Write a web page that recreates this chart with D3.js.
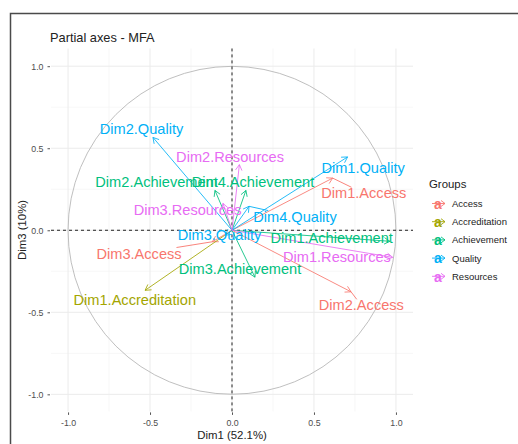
<!DOCTYPE html>
<html>
<head>
<meta charset="utf-8">
<script src="https://cdn.jsdelivr.net/npm/d3@7"></script>
<style>
  html, body { margin: 0; padding: 0; background: #ffffff; }
  svg { display: block; font-family: "Liberation Sans", Arial, sans-serif; }
</style>
</head>
<body>
<svg id="chart" width="518" height="444"></svg>
<script>
// Partial axes of the MFA: each group's own dimensions projected on Dim1 / Dim3
const groups = ["Access", "Accreditation", "Achievement", "Quality", "Resources"];
const groupColors = ["#F8766D", "#A3A500", "#00BF7D", "#00B0F6", "#E76BF3"];

const axisNames = [
  "Dim1.Access", "Dim2.Access", "Dim3.Access",
  "Dim1.Accreditation",
  "Dim1.Achievement", "Dim2.Achievement", "Dim3.Achievement", "Dim4.Achievement",
  "Dim1.Quality", "Dim2.Quality", "Dim3.Quality", "Dim4.Quality",
  "Dim1.Resources", "Dim2.Resources", "Dim3.Resources"
];
const axisGroup = [
  "Access", "Access", "Access",
  "Accreditation",
  "Achievement", "Achievement", "Achievement", "Achievement",
  "Quality", "Quality", "Quality", "Quality",
  "Resources", "Resources", "Resources"
];
// correlations with the global Dim1 and Dim3
const coordDim1 = [0.614, 0.726, -0.12, -0.53, 0.963, -0.104, 0.14, 0.085, 0.705, -0.482, -0.04, 0.104, 0.98, 0.045, -0.055];
const coordDim3 = [0.318, -0.375, -0.07, -0.366, -0.067, 0.243, -0.286, 0.243, 0.447, 0.566, -0.03, 0.146, -0.165, 0.40, 0.164];
// repelled label anchors (same units as the coordinates)
const labelDim1 = [0.804, 0.789, -0.567, -0.593, 0.608, -0.46, 0.049, 0.128, 0.80, -0.552, -0.076, 0.384, 0.64, -0.012, -0.271];
const labelDim3 = [0.227, -0.456, -0.14, -0.426, -0.047, 0.298, -0.237, 0.298, 0.384, 0.621, -0.03, 0.085, -0.163, 0.45, 0.128];

const xTicks = [-1.0, -0.5, 0.0, 0.5, 1.0];
const yTicks = [-1.0, -0.5, 0.0, 0.5, 1.0];
const minorTicks = [-0.75, -0.25, 0.25, 0.75];

const chartTitle = "Partial axes - MFA";
const xTitle = "Dim1 (52.1%)";
const yTitle = "Dim3 (10%)";
const legendTitle = "Groups";

const svg = d3.select("#chart");
const color = d3.scaleOrdinal().domain(groups).range(groupColors);

const x = d3.scaleLinear().domain([-1.104, 1.104]).range([51, 413]);
const y = d3.scaleLinear().domain([-1.104, 1.108]).range([411.4, 48.5]);

// plot frame
svg.append("rect")
  .attr("x", 10.5).attr("y", 13.5).attr("width", 530).attr("height", 450)
  .attr("fill", "#ffffff").attr("stroke", "#4a4a4a").attr("stroke-width", 1.5);

const panel = svg.append("g");
const [x0, x1] = x.range();
const [y0, y1] = y.range();

// grid
panel.selectAll(".vminor").data(minorTicks).join("line")
  .attr("x1", d => x(d)).attr("x2", d => x(d)).attr("y1", y0).attr("y2", y1)
  .attr("stroke", "#f2f2f2").attr("stroke-width", 0.6);
panel.selectAll(".hminor").data(minorTicks).join("line")
  .attr("y1", d => y(d)).attr("y2", d => y(d)).attr("x1", x0).attr("x2", x1)
  .attr("stroke", "#f2f2f2").attr("stroke-width", 0.6);
panel.selectAll(".vmajor").data(xTicks).join("line")
  .attr("x1", d => x(d)).attr("x2", d => x(d)).attr("y1", y0).attr("y2", y1)
  .attr("stroke", "#ebebeb").attr("stroke-width", 1);
panel.selectAll(".hmajor").data(yTicks).join("line")
  .attr("y1", d => y(d)).attr("y2", d => y(d)).attr("x1", x0).attr("x2", x1)
  .attr("stroke", "#ebebeb").attr("stroke-width", 1);

// unit circle
panel.append("circle")
  .attr("cx", x(0)).attr("cy", y(0))
  .attr("r", x(1) - x(0))
  .attr("fill", "none").attr("stroke", "#b8b8b8").attr("stroke-width", 0.9);

// reference lines
panel.append("line")
  .attr("x1", x(0)).attr("x2", x(0)).attr("y1", y0).attr("y2", y1)
  .attr("stroke", "#222").attr("stroke-width", 1).attr("stroke-dasharray", "3,3");
panel.append("line")
  .attr("x1", x0).attr("x2", x1).attr("y1", y(0)).attr("y2", y(0))
  .attr("stroke", "#222").attr("stroke-width", 1).attr("stroke-dasharray", "3,3");

// axes
const xAxis = svg.append("g").attr("transform", `translate(0,${y0 + 1})`)
  .call(d3.axisBottom(x).tickValues(xTicks).tickFormat(d3.format(".1f")).tickSize(2.5).tickPadding(5));
const yAxis = svg.append("g").attr("transform", `translate(${x0 - 1},0)`)
  .call(d3.axisLeft(y).tickValues(yTicks).tickFormat(d3.format(".1f")).tickSize(2.5).tickPadding(4));
[xAxis, yAxis].forEach(a => {
  a.select(".domain").remove();
  a.selectAll(".tick line").attr("stroke", "#555").attr("stroke-width", 1);
  a.selectAll(".tick text").attr("fill", "#4d4d4d").attr("font-size", "8.8px")
    .attr("font-family", "'Liberation Sans', Arial, sans-serif");
});
xAxis.selectAll(".tick text").text(d => d3.format(".1f")(d).replace("−", "-"));
yAxis.selectAll(".tick text").text(d => d3.format(".1f")(d).replace("−", "-"));

// arrows
const rows = axisNames.map((n, i) => ({
  name: n, group: axisGroup[i], cx: coordDim1[i], cy: coordDim3[i],
  lx: labelDim1[i], ly: labelDim3[i]
}));

const arrowG = svg.append("g");
rows.forEach(r => {
  const sx = x(0), sy = y(0), ex = x(r.cx), ey = y(r.cy);
  const ang = Math.atan2(ey - sy, ex - sx);
  const len = 6.5, spread = Math.PI / 6;
  const c = color(r.group);
  arrowG.append("line")
    .attr("x1", sx).attr("y1", sy).attr("x2", ex).attr("y2", ey)
    .attr("stroke", c).attr("stroke-width", 0.85);
  const p1 = [ex - len * Math.cos(ang - spread), ey - len * Math.sin(ang - spread)];
  const p2 = [ex - len * Math.cos(ang + spread), ey - len * Math.sin(ang + spread)];
  arrowG.append("path")
    .attr("d", `M${p1[0]},${p1[1]}L${ex},${ey}L${p2[0]},${p2[1]}`)
    .attr("fill", "none").attr("stroke", c).attr("stroke-width", 0.85);
});

// labels
const segG = svg.append("g");
const labelG = svg.append("g");
rows.forEach(r => {
  const t = labelG.append("text")
    .attr("x", x(r.lx)).attr("y", y(r.ly))
    .attr("dy", "0.36em")
    .attr("text-anchor", "middle")
    .attr("font-size", "14.6px")
    .attr("fill", color(r.group))
    .text(r.name);
  // connector from the arrow tip to the label box when they are apart
  const b = t.node().getBBox();
  const px = x(r.cx), py = y(r.cy);
  const bx0 = b.x, bx1 = b.x + b.width, by0 = b.y + 2, by1 = b.y + b.height - 2;
  const gapX = Math.max(bx0 - px, 0, px - bx1);
  const gapY = Math.max(by0 - py, 0, py - by1);
  if (Math.hypot(gapX, gapY) > 5) {
    const mx = b.x + b.width / 2, my = (by0 + by1) / 2;
    const vx = px - mx, vy = py - my;
    const tx = vx !== 0 ? (b.width / 2) / Math.abs(vx) : Infinity;
    const ty = vy !== 0 ? ((by1 - by0) / 2) / Math.abs(vy) : Infinity;
    const s = Math.min(tx, ty);
    segG.append("line")
      .attr("x1", px).attr("y1", py)
      .attr("x2", mx + vx * s).attr("y2", my + vy * s)
      .attr("stroke", color(r.group)).attr("stroke-width", 0.9);
  }
});

// titles
svg.append("text").attr("x", 50).attr("y", 42)
  .attr("font-size", "12.8px").attr("fill", "#222").text(chartTitle);
svg.append("text").attr("x", (x0 + x1) / 2).attr("y", 439)
  .attr("text-anchor", "middle").attr("font-size", "11.4px").attr("fill", "#222").text(xTitle);
svg.append("text")
  .attr("transform", `translate(26,${(y0 + y1) / 2}) rotate(-90)`)
  .attr("text-anchor", "middle").attr("font-size", "11.4px").attr("fill", "#222").text(yTitle);

// legend
const legend = svg.append("g");
legend.append("text").attr("x", 429).attr("y", 188)
  .attr("font-size", "11.4px").attr("fill", "#222").text(legendTitle);
groups.forEach((g, i) => {
  const cy = 203.5 + i * 18.2;
  const c = color(g);
  const item = legend.append("g");
  item.append("text").attr("x", 438).attr("y", cy).attr("dy", "0.38em")
    .attr("text-anchor", "middle").attr("font-size", "14px").attr("font-weight", "bold")
    .attr("fill", c).text("a");
  item.append("line").attr("x1", 432).attr("y1", cy).attr("x2", 445).attr("y2", cy)
    .attr("stroke", c).attr("stroke-width", 0.9);
  item.append("path").attr("d", `M441,${cy - 3}L445,${cy}L441,${cy + 3}`)
    .attr("fill", "none").attr("stroke", c).attr("stroke-width", 0.9);
  item.append("text").attr("x", 452).attr("y", cy).attr("dy", "0.36em")
    .attr("font-size", "9.5px").attr("fill", "#222").text(g);
});
</script>
</body>
</html>
